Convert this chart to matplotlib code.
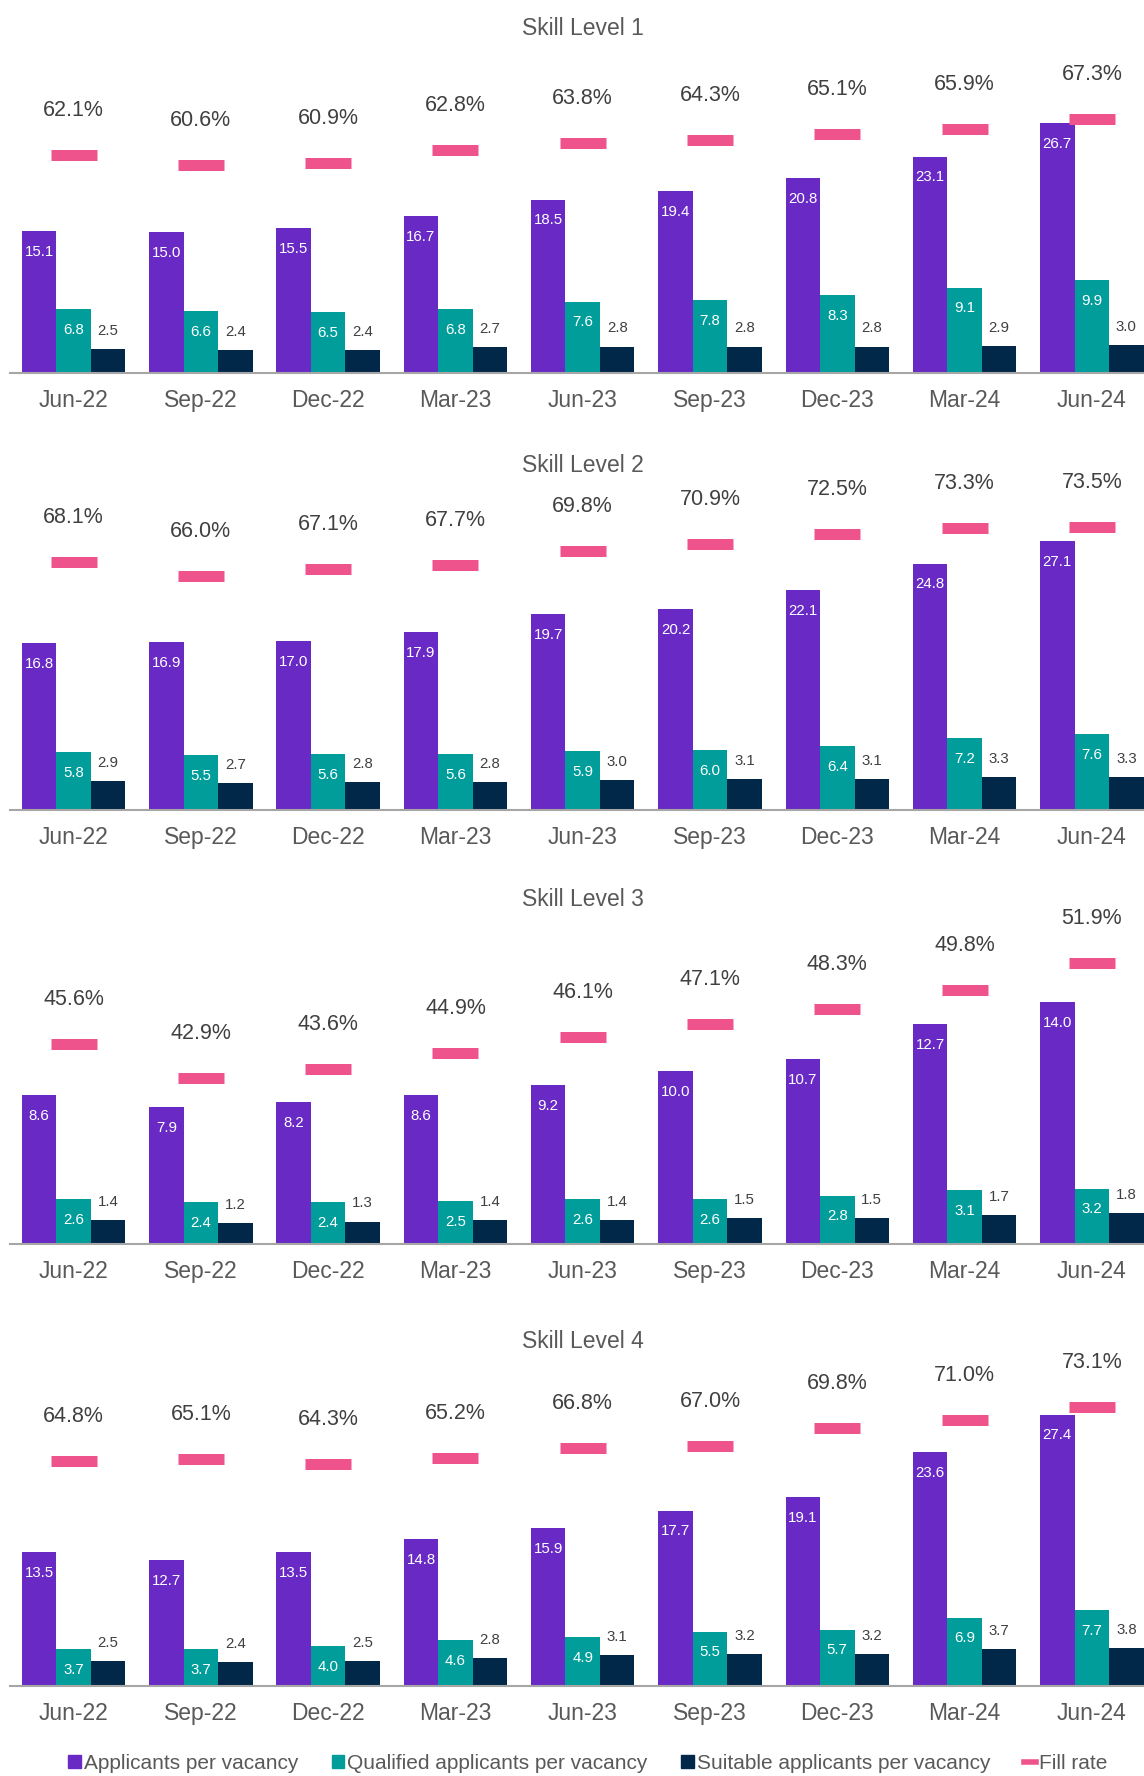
import numpy as np
import matplotlib
matplotlib.use("Agg")
from matplotlib import pyplot as plt
from matplotlib.patches import Patch
from matplotlib.lines import Line2D

plt.rcParams["font.family"] = ["Liberation Sans", "DejaVu Sans"]

trimestres = ["Jun-22", "Sep-22", "Dec-22", "Mar-23", "Jun-23", "Sep-23", "Dec-23", "Mar-24", "Jun-24"]
titulos = ["Skill Level 1", "Skill Level 2", "Skill Level 3", "Skill Level 4"]

candidatos_1 = [15.1, 15.0, 15.5, 16.7, 18.5, 19.4, 20.8, 23.1, 26.7]
qualificados_1 = [6.8, 6.6, 6.5, 6.8, 7.6, 7.8, 8.3, 9.1, 9.9]
adequados_1 = [2.5, 2.4, 2.4, 2.7, 2.8, 2.8, 2.8, 2.9, 3.0]
preenchimento_1 = [62.1, 60.6, 60.9, 62.8, 63.8, 64.3, 65.1, 65.9, 67.3]

candidatos_2 = [16.8, 16.9, 17.0, 17.9, 19.7, 20.2, 22.1, 24.8, 27.1]
qualificados_2 = [5.8, 5.5, 5.6, 5.6, 5.9, 6.0, 6.4, 7.2, 7.6]
adequados_2 = [2.9, 2.7, 2.8, 2.8, 3.0, 3.1, 3.1, 3.3, 3.3]
preenchimento_2 = [68.1, 66.0, 67.1, 67.7, 69.8, 70.9, 72.5, 73.3, 73.5]

candidatos_3 = [8.6, 7.9, 8.2, 8.6, 9.2, 10.0, 10.7, 12.7, 14.0]
qualificados_3 = [2.6, 2.4, 2.4, 2.5, 2.6, 2.6, 2.8, 3.1, 3.2]
adequados_3 = [1.4, 1.2, 1.3, 1.4, 1.4, 1.5, 1.5, 1.7, 1.8]
preenchimento_3 = [45.6, 42.9, 43.6, 44.9, 46.1, 47.1, 48.3, 49.8, 51.9]

candidatos_4 = [13.5, 12.7, 13.5, 14.8, 15.9, 17.7, 19.1, 23.6, 27.4]
qualificados_4 = [3.7, 3.7, 4.0, 4.6, 4.9, 5.5, 5.7, 6.9, 7.7]
adequados_4 = [2.5, 2.4, 2.5, 2.8, 3.1, 3.2, 3.2, 3.7, 3.8]
preenchimento_4 = [64.8, 65.1, 64.3, 65.2, 66.8, 67.0, 69.8, 71.0, 73.1]

paineis = [
    (candidatos_1, qualificados_1, adequados_1, preenchimento_1),
    (candidatos_2, qualificados_2, adequados_2, preenchimento_2),
    (candidatos_3, qualificados_3, adequados_3, preenchimento_3),
    (candidatos_4, qualificados_4, adequados_4, preenchimento_4),
]

# limites dos eixos (primario, secundario) de cada painel
limites = [(34.2, 77.1), (32.2, 79.2), (18.5, 54.9), (32.3, 79.4)]
# linha de base de cada painel, em pixels a partir do topo
bases = [372.7, 810.0, 1244.0, 1686.0]

roxo = "#6929c4"
verde = "#009d9a"
marinho = "#012749"
rosa = "#ee538b"
cinza = "#595959"
texto = "#404040"

W, H = 1144, 1776
altura = 320
fig = plt.figure(figsize=(W / 100, H / 100), dpi=100)

x = np.arange(len(trimestres))
largura = 0.271

for (cand, qual, adeq, pre), titulo, (pmax, smax), base in zip(paineis, titulos, limites, bases):
    ax = fig.add_axes([10 / W, 1 - base / H, (W - 10) / W, altura / H])
    ax2 = ax.twinx()

    b1 = ax.bar(x - largura, cand, largura, color=roxo)
    b2 = ax.bar(x, qual, largura, color=verde)
    b3 = ax.bar(x + largura, adeq, largura, color=marinho)

    for barras, cor, dy in [(b1, "white", -15), (b2, "white", -15), (b3, texto, 13)]:
        for b in barras:
            ax.annotate(f"{b.get_height():.1f}", (b.get_x() + b.get_width() / 2, b.get_height()),
                        xytext=(0, dy), textcoords="offset points", ha="center", va="center",
                        fontsize=10.8, color=cor)

    ax2.plot(x, pre, ls="none", marker="_", ms=47 * 0.72, mew=11 * 0.72, color=rosa)
    for xi, v in zip(x, pre):
        ax2.annotate(f"{v:.1f}%", (xi, v), xytext=(0, 32), textcoords="offset points",
                     ha="center", va="center", fontsize=15.5, color=texto)

    ax.set_xlim(-0.5, 8.41)
    ax.set_ylim(0, pmax)
    ax2.set_ylim(30, smax)
    for a in (ax, ax2):
        for s in ["top", "right", "left"]:
            a.spines[s].set_visible(False)
        a.set_yticks([])
    ax2.spines["bottom"].set_visible(False)
    ax.spines["bottom"].set_color("#a6a6a6")
    ax.spines["bottom"].set_linewidth(1.5)
    ax.set_xticks(x)
    ax.set_xticklabels(trimestres, fontsize=16.5, color=cinza)
    ax.tick_params(axis="x", length=0, pad=11.5)
    ax.text(0.5 + 6 / 1134, 1 + 24.5 / altura, titulo, transform=ax.transAxes, ha="center",
            va="center", fontsize=16.5, color=cinza)

handles = [
    Patch(color=roxo, label="Applicants per vacancy"),
    Patch(color=verde, label="Qualified applicants per vacancy"),
    Patch(color=marinho, label="Suitable applicants per vacancy"),
    Line2D([], [], color=rosa, lw=4, label="Fill rate"),
]
fig.legend(handles=handles, loc="center", bbox_to_anchor=(588 / W, 1 - 1763 / H), ncol=4,
           frameon=False, fontsize=15, handlelength=0.6, handleheight=0.6, handletextpad=0.15,
           columnspacing=1.6, labelcolor=cinza)

plt.savefig("out.png", dpi=100)
plt.close()
